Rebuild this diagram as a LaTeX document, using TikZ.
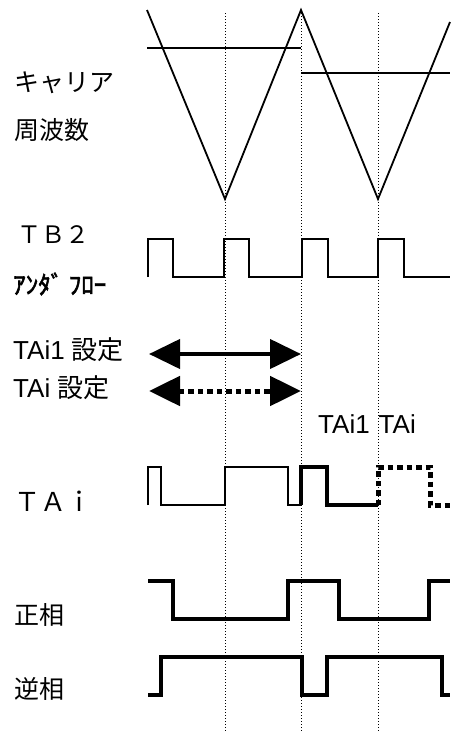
\documentclass[tikz,border=0pt]{standalone}
\usepackage{fontspec}
\setmainfont{Liberation Sans}
\newfontfamily\jp{Noto Sans CJK JP}
\newfontfamily\jpb[FakeBold=2.2]{Noto Sans CJK JP}
\usetikzlibrary{arrows.meta}
\begin{document}
\begin{tikzpicture}[x=1pt,y=-1pt,
  lbl/.style={anchor=west,inner sep=0pt,font=\fontsize{25}{28}\selectfont},
  thinw/.style={line width=1.8pt,line join=miter},
  thickw/.style={line width=4.2pt,line join=miter},
  dotw/.style={line width=5pt,dash pattern=on 5.5pt off 4pt},
  guide/.style={line width=1pt,dash pattern=on 1.2pt off 1.8pt},
  bigarrow/.style={{Triangle[length=31pt,width=29pt]}-{Triangle[length=31pt,width=29pt]}}]
\useasboundingbox (0,0) rectangle (450,731);
% guide lines
\foreach \gx/\gn in {225/ga,301/gb,378/gc}{
  \coordinate (\gn t) at (\gx,13);
  \coordinate (\gn b) at (\gx,731);
  \draw[guide] (\gn t) -- (\gn b);
}
% carrier
\draw[thinw] (147,10) -- (225,199) -- (301,10) -- (378,199) -- (450,22);
\draw[thinw] (147,48) -- (301,48);
\draw[thinw] (301,73) -- (450,73);
% TB2 underflow
\draw[thinw] (148,277) -- (148,239) -- (173,239) -- (173,277) -- (224,277) -- (224,239)
  -- (249,239) -- (249,277) -- (302,277) -- (302,239) -- (328,239) -- (328,277)
  -- (378,277) -- (378,239) -- (404,239) -- (404,277) -- (450,277);
% setting arrows
\coordinate (a1l) at (149,354); \coordinate (a1r) at (301,354);
\coordinate (a2l) at (149,391); \coordinate (a2r) at (301,391);
\draw[bigarrow,line width=4.2pt] (a1l) -- (a1r);
\draw[bigarrow,dotw] (a2l) -- (a2r);
% TAi
\draw[thinw] (148,505) -- (148,467) -- (161,467) -- (161,505) -- (225,505) -- (225,467)
  -- (288,467) -- (288,505) -- (301,505);
\draw[thickw] (301,505) -- (301,467) -- (327,467) -- (327,505) -- (378,505);
\draw[dotw] (378,505) -- (378,467) -- (430,467) -- (430,505) -- (450,505);
% positive phase
\draw[thickw] (148,581) -- (173,581) -- (173,619) -- (288,619) -- (288,581) -- (339,581)
  -- (339,619) -- (429,619) -- (429,581) -- (450,581);
% negative phase
\draw[thickw] (148,695) -- (161,695) -- (161,657) -- (302,657) -- (302,695) -- (327,695)
  -- (327,657) -- (442,657) -- (442,695) -- (450,695);
% labels
\node[lbl] (l1) at (14,83) {\jp キャリア};
\node[lbl] (l2) at (14,130) {\jp 周波数};
\node[lbl,font=\fontsize{24}{28}\selectfont] (l3) at (17,235) {\jp ＴＢ２};
\node[lbl,font=\fontsize{25}{28}\selectfont] (l4) at (13,284) {\jpb ｱﾝﾀﾞ ﾌﾛｰ};
\node[lbl,font=\fontsize{26}{28}\selectfont] (l5) at (13,350) {TAi1 {\jp 設定}};
\node[lbl,font=\fontsize{26}{28}\selectfont] (l6) at (13,388) {TAi {\jp 設定}};
\node[lbl,font=\fontsize{26}{28}\selectfont] (l7) at (318,424) {TAi1\hspace{9pt}TAi};
\node[lbl,font=\fontsize{26}{28}\selectfont] (l8) at (14,501) {\jp ＴＡｉ};
\node[lbl] (l9) at (14,615) {\jp 正相};
\node[lbl] (l10) at (14,689) {\jp 逆相};
\end{tikzpicture}
\end{document}
